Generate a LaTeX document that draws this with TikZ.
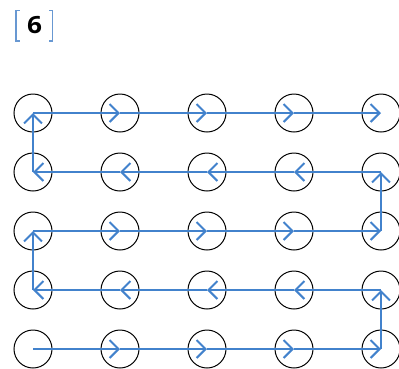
\documentclass[tikz,border=0pt]{standalone}
\usepackage{fontspec}
\setmainfont{Open Sans}
\usetikzlibrary{arrows.meta}
\definecolor{pathblue}{RGB}{66,130,204}
\definecolor{brackblue}{RGB}{104,152,210}
\tikzset{
  cell/.style={circle, draw=black, line width=1pt, minimum size=38pt, inner sep=0pt},
  hop/.style={draw=pathblue, line width=2pt,
    -{Straight Barb[length=9pt,width=18pt,line width=2pt]}},
  brack/.style={draw=brackblue, line width=1.4pt},
}
\begin{document}
\begin{tikzpicture}[x=1pt,y=-1pt]
  \useasboundingbox (0,0) rectangle (399,368);
  \clip (0,0) rectangle (399,368);

  % result label in brackets
  \draw[brack] (19.5,10.5) -- (16,10.5) -- (16,41) -- (19.5,41);
  \draw[brack] (49,10.5) -- (52.5,10.5) -- (52.5,41) -- (49,41);
  \node[font=\fontsize{22}{22}\selectfont\bfseries, inner sep=0pt, scale=1.08, xscale=1.1] (val) at (34.5,25.3) {6};

  % 5x5 grid of cells, row 0 at the bottom
  \foreach \i in {0,...,4} {
    \foreach \j in {0,...,4} {
      \node[cell] (c\i\j) at ({33+87*\i},{349-59*\j}) {};
    }
  }

  % serpentine route through the grid
  \foreach \a/\b in {00/10,10/20,20/30,30/40,40/41,
                     41/31,31/21,21/11,11/01,01/02,
                     02/12,12/22,22/32,32/42,42/43,
                     43/33,33/23,23/13,13/03,03/04,
                     04/14,14/24,24/34,34/44} {
    \draw[hop] (c\a.center) -- (c\b.center);
  }
\end{tikzpicture}
\end{document}
